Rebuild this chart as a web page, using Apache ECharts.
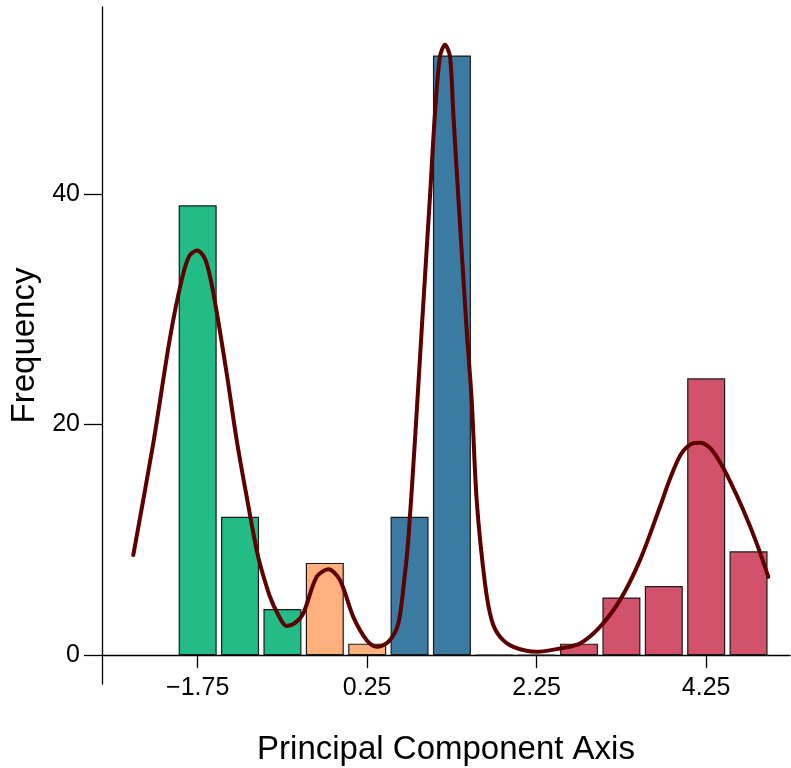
<!DOCTYPE html>
<html>
<head>
<meta charset="utf-8">
<script src="https://cdn.jsdelivr.net/npm/echarts@6/dist/echarts.min.js"></script>
<style>
html,body{margin:0;padding:0;background:#fff;}
#chart{width:791px;height:768px;}
</style>
</head>
<body>
<div id="chart"></div>
<script>
// Histogram bins (centers) and counts
var binCenters = [-1.75, -1.25, -0.75, -0.25, 0.25, 0.75, 1.25, 1.75, 2.25, 2.75, 3.25, 3.75, 4.25, 4.75];
var binCounts  = [39, 12, 4, 8, 1, 12, 52, 0, 0, 1, 5, 6, 24, 9];
// colour group of each bin: 0 green, 1 orange, 2 blue, 3 red
var binGroup   = [0, 0, 0, 1, 1, 2, 2, 2, 3, 3, 3, 3, 3, 3];
var groupColors = ['#23bb86', '#ffb07d', '#3b7ba2', '#d2516b'];

// Density curve (scaled to counts)
var kdeX = [-2.510, -2.274, -2.077, -1.940, -1.850, -1.755, -1.660, -1.570, -1.408, -1.290, -1.172, -1.054, -0.995, -0.897,
            -0.800, -0.700, -0.600, -0.504, -0.346, -0.209, -0.071, 0.086, 0.244, 0.362, 0.499, 0.617, 0.696, 0.735, 0.814, 0.893,
            0.991, 1.050, 1.109, 1.168, 1.227, 1.266, 1.325, 1.424, 1.483, 1.542, 1.640, 1.719, 1.817, 1.974,
            2.250, 2.525, 2.761, 2.997, 3.233, 3.469, 3.705, 3.823, 3.950, 4.070, 4.177, 4.290, 4.400, 4.531, 4.688, 4.846, 4.983];
var kdeY = [8.68, 18.37, 27.5, 32.5, 34.6, 35.08, 34.3, 31.6, 24.44, 18.66, 13.74, 9.11, 7.38, 5.06,
            3.5, 2.52, 2.8, 3.62, 6.79, 7.44, 6.51, 3.32, 1.30, 0.72, 1.15, 2.75, 7.09, 9.98, 18.66, 28.20,
            39.77, 47.0, 51.91, 52.93, 51.91, 47.0, 39.77, 28.20, 22.13, 13.45, 6.22, 3.04, 1.59, 0.72,
            0.29, 0.58, 1.02, 2.46, 4.77, 8.24, 12.87, 15.3, 17.4, 18.3, 18.42, 18.0, 16.9, 15.1, 12.58, 9.69, 6.79];

var xTicks = [-1.75, 0.25, 2.25, 4.25];
var yTicks = [0, 20, 40];

var FONT = '"Liberation Sans", Arial, sans-serif';

var barData = binCenters.map(function (c, i) {
  return {
    value: [c, binCounts[i]],
    itemStyle: { color: groupColors[binGroup[i]] }
  };
});
var kdeData = kdeX.map(function (x, i) { return [x, kdeY[i]]; });

var chart = echarts.init(document.getElementById('chart'), null, { renderer: 'canvas' });
chart.setOption({
  backgroundColor: '#ffffff',
  animation: false,
  grid: { left: 102, right: 1, top: 7, bottom: 84, containLabel: false, outerBoundsMode: 'none' },
  xAxis: {
    type: 'value',
    min: -2.879, max: 5.239,
    splitLine: { show: false },
    axisLine: { show: true, onZero: true, lineStyle: { color: '#000', width: 1.3 } },
    axisTick: { show: true, length: 13, customValues: xTicks, lineStyle: { color: '#000', width: 1.3 } },
    axisLabel: {
      customValues: xTicks, margin: -8, color: '#000', fontSize: 25, fontFamily: FONT,
      formatter: function (v) { return v.toFixed(2).replace('-', '\u2212'); }
    },
    name: 'Principal Component Axis',
    nameLocation: 'middle', nameGap: 49,
    nameTextStyle: { color: '#000', fontSize: 33, fontFamily: FONT }
  },
  yAxis: {
    type: 'value',
    min: -2.5, max: 56.2,
    splitLine: { show: false },
    axisLine: { show: true, onZero: false, lineStyle: { color: '#000', width: 1.3 } },
    axisTick: { show: true, length: 18, customValues: yTicks, lineStyle: { color: '#000', width: 1.3 } },
    axisLabel: {
      customValues: yTicks, margin: 22, color: '#000', fontSize: 25, fontFamily: FONT
    },
    name: 'Frequency',
    nameLocation: 'middle', nameGap: 54,
    nameTextStyle: { color: '#000', fontSize: 33, fontFamily: FONT }
  },
  series: [
    {
      type: 'bar',
      data: barData,
      barWidth: 38,
      itemStyle: { borderColor: '#1a1a1a', borderWidth: 1.2 },
      z: 2
    },
    {
      type: 'line',
      data: kdeData,
      smooth: 0.3,
      symbol: 'none',
      lineStyle: { color: '#5c0000', width: 4, cap: 'round', join: 'round' },
      z: 3
    }
  ]
});
</script>
</body>
</html>
